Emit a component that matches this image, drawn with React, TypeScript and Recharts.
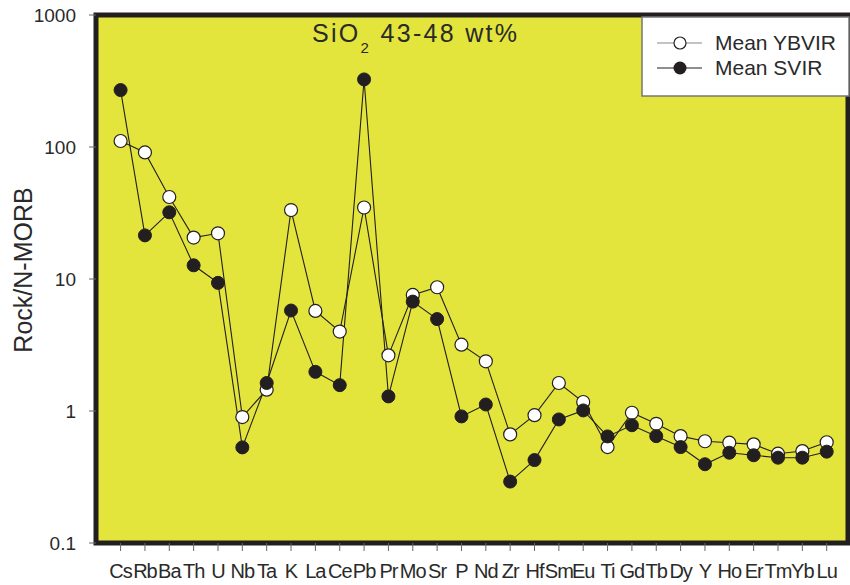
import { LineChart, Line, XAxis, YAxis, ReferenceArea, Label } from 'recharts';

const ELEMENTS = [
  'Cs', 'Rb', 'Ba', 'Th', 'U', 'Nb', 'Ta', 'K', 'La', 'Ce', 'Pb', 'Pr', 'Mo', 'Sr', 'P',
  'Nd', 'Zr', 'Hf', 'Sm', 'Eu', 'Ti', 'Gd', 'Tb', 'Dy', 'Y', 'Ho', 'Er', 'Tm', 'Yb', 'Lu',
];

// Rock / N-MORB normalised means
const YBVIR = [
  111, 91, 41.8, 20.6, 22.2, 0.9, 1.45, 33.3, 5.73, 4.0, 34.8, 2.64, 7.57, 8.66, 3.18,
  2.38, 0.665, 0.93, 1.63, 1.17, 0.533, 0.97, 0.8, 0.645, 0.59, 0.575, 0.559, 0.475, 0.497, 0.58,
];
const SVIR = [
  270, 21.4, 32, 12.7, 9.35, 0.53, 1.63, 5.77, 1.98, 1.57, 325, 1.29, 6.74, 4.97, 0.91,
  1.12, 0.292, 0.425, 0.863, 1.01, 0.642, 0.78, 0.645, 0.533, 0.395, 0.483, 0.462, 0.443, 0.443, 0.492,
];

const Y_TICKS = [0.1, 1, 10, 100, 1000];
const X_TICKS = ELEMENTS.map((_, i) => i);

const INK = '#231f20';
const PLOT_BG = '#e3e53c';
const FONT = '"Liberation Sans", Arial, sans-serif';

const data = ELEMENTS.map((el, i) => ({ idx: i, el, ybvir: YBVIR[i], svir: SVIR[i] }));

function YLabel() {
  return (
    <text
      x={22.5}
      y={270}
      transform="rotate(-90, 22.5, 270)"
      textAnchor="middle"
      dominantBaseline="central"
      fontFamily={FONT}
      fontSize={25}
      fill="#2a2a2a"
    >
      Rock/N-MORB
    </text>
  );
}

function Overlay() {
  return (
    <svg
      width={850}
      height={585}
      style={{ position: 'absolute', left: 0, top: 0, pointerEvents: 'none' }}
    >
      <text x={312} y={42} fontFamily={FONT} fontSize={25} letterSpacing={2.3} fill="#2a2a2a">
        SiO
        <tspan fontSize={15} dy={11}>2</tspan>
        <tspan dy={-11}> 43-48 wt%</tspan>
      </text>
      <g>
        <rect x={642} y={17} width={207} height={79} fill="#fff" stroke="#777" strokeWidth={1.5} />
        <line x1={657} x2={702} y1={43} y2={43} stroke="#888" strokeWidth={1.2} />
        <circle cx={680} cy={43} r={6} fill="#fff" stroke={INK} strokeWidth={1.2} />
        <text x={715} y={50} fontFamily={FONT} fontSize={21} fill="#2a2a2a">Mean YBVIR</text>
        <line x1={657} x2={702} y1={68} y2={68} stroke={INK} strokeWidth={1.2} />
        <circle cx={680} cy={68} r={6.5} fill={INK} />
        <text x={715} y={75} fontFamily={FONT} fontSize={21} fill="#2a2a2a">Mean SVIR</text>
      </g>
    </svg>
  );
}

export default function App() {
  return (
    <div style={{ position: 'absolute', left: 0, top: 0, width: 850, height: 585, background: '#fff' }}>
      <LineChart
        width={850}
        height={585}
        data={data}
        margin={{ top: 15, right: 2, bottom: 0, left: 0 }}
      >
        <ReferenceArea
          y1={0.1}
          y2={1000}
          fill={PLOT_BG}
          fillOpacity={1}
          stroke={INK}
          strokeWidth={5}
        />
        <XAxis
          dataKey="idx"
          type="number"
          domain={[-1.01, 29.875]}
          allowDataOverflow
          ticks={X_TICKS}
          interval={0}
          tickFormatter={(i: number) => ELEMENTS[i]}
          height={42}
          axisLine={false}
          tickSize={8}
          tickMargin={13}
          tickLine={{ stroke: '#666' }}
          tick={{ fontFamily: FONT, fontSize: 20, fill: '#2a2a2a', letterSpacing: -1 }}
        />
        <YAxis
          scale="log"
          domain={[0.1, 1000]}
          ticks={Y_TICKS}
          allowDataOverflow
          width={96}
          axisLine={false}
          tickSize={7}
          tickMargin={13}
          tickLine={{ stroke: '#666' }}
          tick={{ fontFamily: FONT, fontSize: 19, fill: '#2a2a2a' }}
        >
          <Label content={YLabel} />
        </YAxis>
        <Line
          dataKey="ybvir"
          stroke={INK}
          strokeWidth={1.1}
          dot={{ r: 6.5, fill: '#fff', stroke: INK, strokeWidth: 1.2 }}
          isAnimationActive={false}
        />
        <Line
          dataKey="svir"
          stroke={INK}
          strokeWidth={1.1}
          dot={{ r: 6.5, fill: INK, stroke: INK, strokeWidth: 1 }}
          isAnimationActive={false}
        />
      </LineChart>
      <Overlay />
    </div>
  );
}
